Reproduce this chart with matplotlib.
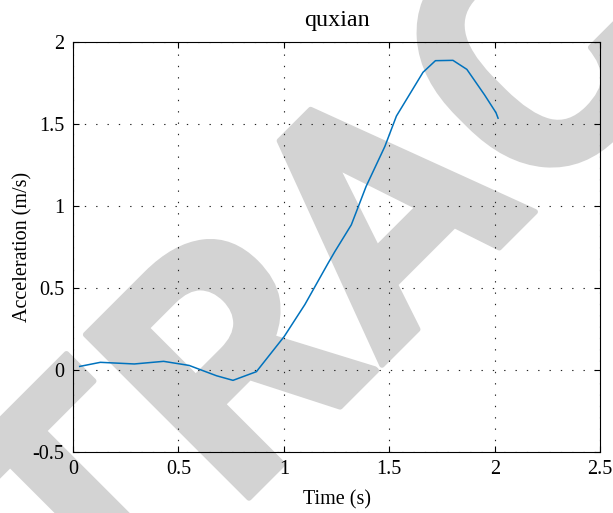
import matplotlib
matplotlib.use("Agg")
import numpy as np
import matplotlib.pyplot as plt
import matplotlib.patheffects as pe
from matplotlib.font_manager import FontProperties
from matplotlib.textpath import TextPath

# acceleration curve
time_s = [0.032, 0.13, 0.291, 0.43, 0.551, 0.625, 0.681, 0.759, 0.870, 1.002,
          1.10, 1.21, 1.242, 1.32, 1.39, 1.479, 1.534, 1.66, 1.719, 1.802,
          1.868, 1.952, 2.006, 2.016]
accel = [0.022, 0.047, 0.037, 0.053, 0.028, -0.008, -0.035, -0.063, -0.010, 0.205,
         0.400, 0.652, 0.723, 0.886, 1.12, 1.364, 1.55, 1.817, 1.888, 1.890,
         1.835, 1.679, 1.571, 1.537]

xticks = [0, 0.5, 1, 1.5, 2, 2.5]
xlabels = ["0", "0.5", "1", "1.5", "2", "2.5"]
yticks = [-0.5, 0, 0.5, 1, 1.5, 2]
ylabels = ["-0.5", "0", "0.5", "1", "1.5", "2"]

plt.rcParams['font.family'] = ['Liberation Serif', 'DejaVu Serif']
plt.rcParams['font.size'] = 14.5

W, H = 613, 513
fig = plt.figure(figsize=(W / 100, H / 100), dpi=100)
ax = fig.add_axes([0.119, 0.119, 0.860, 0.7985])
ax.set_zorder(1)
ax.patch.set_alpha(0)

# watermark behind the axes, placed so the "A" starts where it does in the reference
wm = "RETRACTED"
wm_size = 234
wm_font = FontProperties(family='Roboto', weight='bold')
a_right = TextPath((0, 0), wm[:5], size=wm_size, prop=wm_font).get_extents().x1
a_ext = TextPath((0, 0), "A", size=wm_size, prop=wm_font).get_extents()
a_left_px = (a_right - (a_ext.x1 - a_ext.x0)) * 100 / 72
ang = np.radians(45)
ox = 382 - a_left_px * np.cos(ang)
oy = 365 + a_left_px * np.sin(ang)
fig.text(ox / W, 1 - oy / H, wm, fontproperties=wm_font, fontsize=wm_size,
         color='#d3d3d3', rotation=45, rotation_mode='anchor',
         ha='left', va='baseline', zorder=0,
         path_effects=[pe.withStroke(linewidth=4, foreground='#d3d3d3')])

ax.plot(time_s, accel, color='#0072BD', lw=1.1)

ax.set_xlim(0, 2.5)
ax.set_ylim(-0.5, 2)
ax.set_xticks(xticks)
ax.set_xticklabels(xlabels)
ax.set_yticks(yticks)
ax.set_yticklabels(ylabels)
ax.tick_params(direction='in', length=4, width=0.8, top=True, right=True, pad=6)
ax.grid(True, color='#222222', lw=0.8, linestyle=(0, (1.2, 9)))
for s in ax.spines.values():
    s.set_linewidth(0.8)

ax.set_title("quxian", pad=12)
ax.set_xlabel("Time (s)", labelpad=8)
ax.set_ylabel("Acceleration (m/s)", labelpad=0)

fig.savefig("out.png", dpi=100)
